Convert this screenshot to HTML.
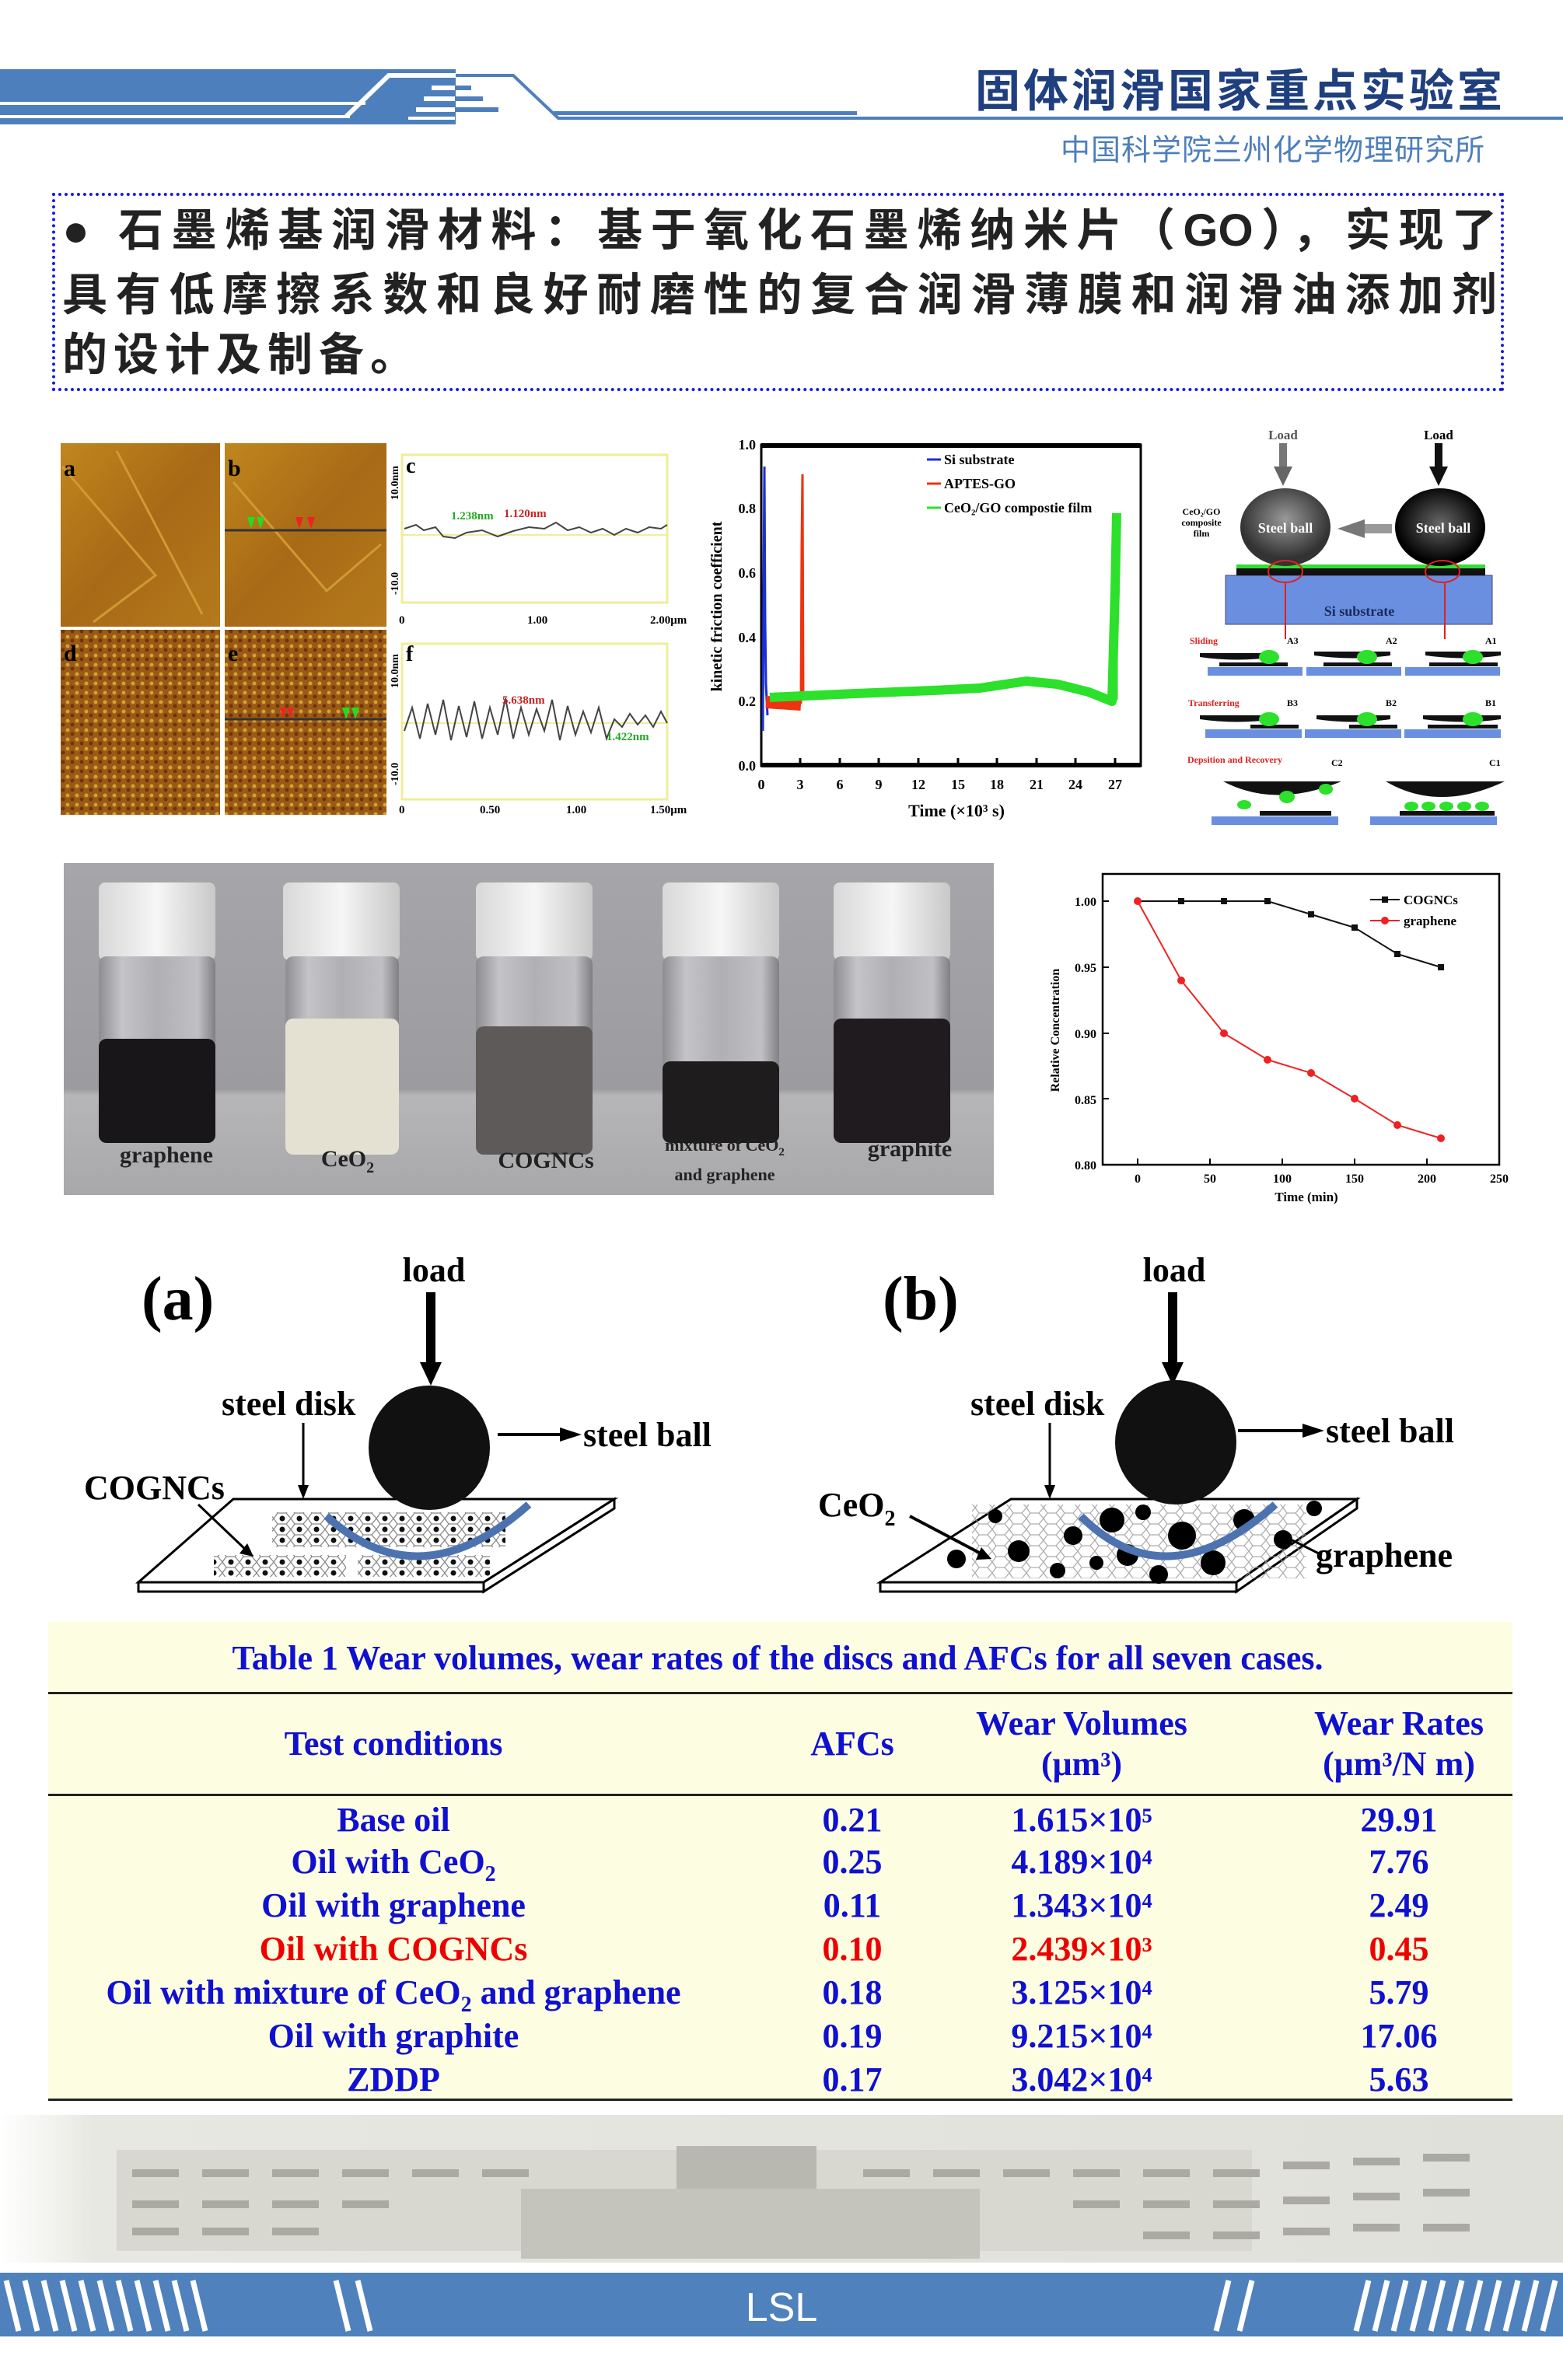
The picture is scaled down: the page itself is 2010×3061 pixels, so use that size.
<!DOCTYPE html>
<html><head><meta charset="utf-8">
<style>
*{margin:0;padding:0;box-sizing:border-box}
body{width:2010px;height:3061px;background:#fff;position:relative;overflow:hidden;font-family:"Liberation Serif","Noto Serif CJK SC",serif}
.abs{position:absolute}
.cjk{font-family:"Liberation Sans","Noto Sans CJK SC",sans-serif}
.ln{position:absolute;left:80px;width:1845px;font-size:58px;font-weight:bold;color:#222;text-align:justify;text-align-last:justify;line-height:60px;white-space:nowrap}
.t{position:absolute;font-weight:bold;font-size:44px;color:#1010d0;text-align:center;transform:translateX(-50%);white-space:nowrap;line-height:50px}
</style></head><body>

<!-- header -->
<svg class="abs" style="left:0;top:0" width="2010" height="220">
<rect x="0" y="89" width="586" height="71" fill="#4e7fbd"/>
<rect x="0" y="131" width="470" height="4" fill="#fff"/>
<rect x="0" y="148" width="450" height="4" fill="#fff"/>
<polyline points="445,150 500,97 586,97" fill="none" stroke="#fff" stroke-width="6"/>
<rect x="555" y="110" width="30" height="6" fill="#fff"/>
<rect x="545" y="124" width="40" height="6" fill="#fff"/>
<rect x="535" y="138" width="50" height="6" fill="#fff"/>
<rect x="525" y="150" width="60" height="4" fill="#fff"/>
<rect x="586" y="110" width="20" height="6" fill="#4e7fbd"/>
<rect x="586" y="124" width="35" height="6" fill="#4e7fbd"/>
<rect x="586" y="138" width="55" height="6" fill="#4e7fbd"/>
<polyline points="586,97 660,97 718,152 2010,152" fill="none" stroke="#4e7fbd" stroke-width="4"/>
<rect x="712" y="143" width="390" height="5" fill="#4e7fbd"/>
</svg>
<div class="abs cjk" style="left:1254px;top:70px;font-size:58px;font-weight:bold;color:#1f3f7f;letter-spacing:4px">固体润滑国家重点实验室</div>
<div class="abs cjk" style="left:1364px;top:162px;font-size:38px;color:#4e7fbd;letter-spacing:1px">中国科学院兰州化学物理研究所</div>

<!-- text box -->
<div class="abs" style="left:67px;top:248px;width:1867px;height:255px;border:4px dotted #1a1ae6"></div>
<div class="ln cjk" style="top:267px">● 石墨烯基润滑材料：基于氧化石墨烯纳米片（GO），实现了</div>
<div class="ln cjk" style="top:350px">具有低摩擦系数和良好耐磨性的复合润滑薄膜和润滑油添加剂</div>
<div class="abs cjk" style="left:80px;top:427px;font-size:58px;font-weight:bold;color:#222;line-height:60px;letter-spacing:8px">的设计及制备。</div>

<!-- AFM panels -->
<svg class="abs" style="left:0;top:540px" width="1000" height="540">
<defs>
<pattern id="n2" width="12" height="12" patternUnits="userSpaceOnUse"><rect width="12" height="12" fill="#9a5a16"/><circle cx="3" cy="3" r="2.5" fill="#d2a232"/><circle cx="9" cy="8" r="2.5" fill="#6e340c"/></pattern>
<linearGradient id="ag" x1="0" y1="0" x2="1" y2="1"><stop offset="0" stop-color="#c0861e"/><stop offset="0.5" stop-color="#a86a16"/><stop offset="1" stop-color="#b57a1c"/></linearGradient>
</defs>
<rect x="78" y="30" width="205" height="236" fill="url(#ag)"/>
<rect x="289" y="30" width="208" height="236" fill="url(#ag)"/>
<path d="M80 60 L200 200 L120 260 M150 40 L260 250 M300 80 L420 220 L490 160" stroke="#cf9a34" stroke-width="3" fill="none"/>
<rect x="78" y="270" width="205" height="238" fill="url(#n2)"/>
<rect x="289" y="270" width="208" height="238" fill="url(#n2)"/>
<line x1="289" y1="142" x2="497" y2="142" stroke="#333" stroke-width="3"/>
<line x1="289" y1="385" x2="497" y2="385" stroke="#333" stroke-width="3"/>
<text x="82" y="72" font-size="30" font-weight="bold">a</text>
<text x="293" y="72" font-size="30" font-weight="bold">b</text>
<text x="82" y="310" font-size="30" font-weight="bold">d</text>
<text x="293" y="310" font-size="30" font-weight="bold">e</text>
<polygon points="318,125 328,125 323,140" fill="#2d2"/><polygon points="330,125 340,125 335,140" fill="#2d2"/>
<polygon points="380,125 390,125 385,140" fill="#e22"/><polygon points="395,125 405,125 400,140" fill="#e22"/>
<polygon points="360,370 368,370 364,385" fill="#e22"/><polygon points="370,370 378,370 374,385" fill="#e22"/>
<polygon points="440,370 450,370 445,385" fill="#2d2"/><polygon points="452,370 462,370 457,385" fill="#2d2"/>
<!-- c -->
<rect x="517" y="45" width="341" height="190" fill="#fff" stroke="#ee9" stroke-width="3"/>
<line x1="517" y1="148" x2="858" y2="148" stroke="#ee9" stroke-width="2"/>
<polyline points="520,140 535,135 545,142 560,138 570,150 585,152 600,145 620,142 640,150 660,143 680,138 700,140 715,132 730,142 745,138 760,145 775,140 790,148 805,140 820,145 835,138 850,140 858,135" fill="none" stroke="#444" stroke-width="2"/>
<text x="522" y="68" font-size="28" font-weight="bold">c</text>
<text x="580" y="128" font-size="15" fill="#2a2" font-weight="bold">1.238nm</text>
<text x="648" y="125" font-size="15" fill="#c22" font-weight="bold">1.120nm</text>
<text x="512" y="103" font-size="14" font-weight="bold" transform="rotate(-90 512 103)">10.0nm</text>
<text x="512" y="225" font-size="14" font-weight="bold" transform="rotate(-90 512 225)">-10.0</text>
<text x="513" y="262" font-size="15" font-weight="bold">0</text>
<text x="678" y="262" font-size="15" font-weight="bold">1.00</text>
<text x="836" y="262" font-size="15" font-weight="bold">2.00μm</text>
<!-- f -->
<rect x="517" y="288" width="341" height="200" fill="#fff" stroke="#ee9" stroke-width="3"/>
<line x1="517" y1="390" x2="858" y2="390" stroke="#ee9" stroke-width="2"/>
<polyline points="520,400 530,370 540,410 550,365 560,405 570,360 580,412 590,368 600,408 610,362 620,410 630,370 640,405 650,358 660,410 670,370 680,405 690,372 700,400 710,360 720,412 730,368 740,405 750,375 760,402 770,370 780,410 790,385 800,395 810,378 820,392 830,380 840,395 850,375 858,390" fill="none" stroke="#444" stroke-width="2"/>
<text x="522" y="310" font-size="28" font-weight="bold">f</text>
<text x="646" y="365" font-size="15" fill="#c22" font-weight="bold">5.638nm</text>
<text x="780" y="412" font-size="15" fill="#2a2" font-weight="bold">1.422nm</text>
<text x="512" y="345" font-size="14" font-weight="bold" transform="rotate(-90 512 345)">10.0nm</text>
<text x="512" y="470" font-size="14" font-weight="bold" transform="rotate(-90 512 470)">-10.0</text>
<text x="513" y="506" font-size="15" font-weight="bold">0</text>
<text x="617" y="506" font-size="15" font-weight="bold">0.50</text>
<text x="728" y="506" font-size="15" font-weight="bold">1.00</text>
<text x="836" y="506" font-size="15" font-weight="bold">1.50μm</text>
</svg>

<!-- friction chart -->
<svg class="abs" style="left:900px;top:540px" width="600" height="540">
<g transform="translate(-900,-540)">
<rect x="979" y="572" width="488" height="413" fill="none" stroke="#000" stroke-width="3"/>
<line x1="979" y1="573" x2="1467" y2="573" stroke="#000" stroke-width="6"/>
<line x1="979" y1="984" x2="1467" y2="984" stroke="#000" stroke-width="6"/>
<g font-size="18" font-weight="bold" text-anchor="end">
<text x="972" y="578">1.0</text><text x="972" y="660">0.8</text><text x="972" y="743">0.6</text><text x="972" y="826">0.4</text><text x="972" y="908">0.2</text><text x="972" y="991">0.0</text></g>
<g font-size="18" font-weight="bold" text-anchor="middle">
<text x="979" y="1015">0</text><text x="1029" y="1015">3</text><text x="1080" y="1015">6</text><text x="1130" y="1015">9</text><text x="1181" y="1015">12</text><text x="1232" y="1015">15</text><text x="1282" y="1015">18</text><text x="1333" y="1015">21</text><text x="1383" y="1015">24</text><text x="1434" y="1015">27</text></g>
<g stroke="#000" stroke-width="3"><line x1="1029" y1="984" x2="1029" y2="975"/><line x1="1080" y1="984" x2="1080" y2="975"/><line x1="1130" y1="984" x2="1130" y2="975"/><line x1="1181" y1="984" x2="1181" y2="975"/><line x1="1232" y1="984" x2="1232" y2="975"/><line x1="1282" y1="984" x2="1282" y2="975"/><line x1="1333" y1="984" x2="1333" y2="975"/><line x1="1383" y1="984" x2="1383" y2="975"/><line x1="1434" y1="984" x2="1434" y2="975"/></g>
<text x="1230" y="1050" font-size="22" font-weight="bold" text-anchor="middle">Time (×10³ s)</text>
<text x="928" y="780" font-size="20" font-weight="bold" text-anchor="middle" transform="rotate(-90 928 780)">kinetic friction coefficient</text>
<polyline points="981,940 982,760 983,600 984,800 985,880 987,920" fill="none" stroke="#1b2fd8" stroke-width="3"/>
<path d="M985 903 L1030 906" stroke="#e31" stroke-width="16"/>
<polyline points="1030,905 1031,700 1032,610 1033,900" fill="none" stroke="#e31" stroke-width="3"/>
<polyline points="990,897 1100,892 1200,888 1260,885 1320,876 1360,880 1400,890 1430,902 1434,760 1436,660" fill="none" stroke="#2ce02c" stroke-width="12" stroke-linejoin="round"/>
<line x1="1436" y1="900" x2="1436" y2="660" stroke="#2ce02c" stroke-width="3"/>
<g font-size="18" font-weight="bold">
<line x1="1192" y1="591" x2="1210" y2="591" stroke="#1b2fd8" stroke-width="3"/><text x="1214" y="597">Si substrate</text>
<line x1="1192" y1="622" x2="1210" y2="622" stroke="#e31" stroke-width="3"/><text x="1214" y="628">APTES-GO</text>
<line x1="1192" y1="653" x2="1210" y2="653" stroke="#2ce02c" stroke-width="3"/><text x="1214" y="659">CeO₂/GO compostie film</text></g>
</g></svg>

<!-- right schematic -->
<svg class="abs" style="left:1490px;top:540px" width="460" height="540">
<defs><radialGradient id="gb" cx="0.5" cy="0.4"><stop offset="0" stop-color="#999"/><stop offset="1" stop-color="#333"/></radialGradient>
<radialGradient id="bb" cx="0.5" cy="0.45"><stop offset="0" stop-color="#666"/><stop offset="1" stop-color="#000"/></radialGradient></defs>
<text x="160" y="25" font-size="17" font-weight="bold" text-anchor="middle" fill="#555">Load</text>
<text x="360" y="25" font-size="17" font-weight="bold" text-anchor="middle">Load</text>
<rect x="155" y="30" width="10" height="30" fill="#777"/><polygon points="148,60 172,60 160,85" fill="#666"/>
<rect x="355" y="30" width="10" height="30" fill="#111"/><polygon points="348,60 372,60 360,85" fill="#111"/>
<rect x="86" y="200" width="343" height="63" fill="#6a8fe0" stroke="#446" stroke-width="1"/>
<rect x="100" y="190" width="320" height="10" fill="#111"/>
<rect x="100" y="186" width="320" height="5" fill="#3d3"/>
<ellipse cx="163" cy="138" rx="58" ry="50" fill="url(#gb)"/>
<ellipse cx="362" cy="138" rx="58" ry="50" fill="url(#bb)"/>
<polygon points="230,140 265,128 265,152" fill="#777"/><rect x="265" y="134" width="35" height="12" fill="#999"/>
<text x="163" y="145" font-size="18" font-weight="bold" fill="#fff" text-anchor="middle">Steel ball</text>
<text x="366" y="145" font-size="18" font-weight="bold" fill="#fff" text-anchor="middle">Steel ball</text>
<text x="55" y="122" font-size="12" font-weight="bold" text-anchor="middle">CeO₂/GO</text>
<text x="55" y="136" font-size="12" font-weight="bold" text-anchor="middle">composite</text>
<text x="55" y="150" font-size="12" font-weight="bold" text-anchor="middle">film</text>
<ellipse cx="163" cy="195" rx="22" ry="14" fill="none" stroke="#d22" stroke-width="2"/>
<ellipse cx="365" cy="195" rx="22" ry="14" fill="none" stroke="#d22" stroke-width="2"/>
<line x1="163" y1="210" x2="163" y2="282" stroke="#d22" stroke-width="2"/>
<line x1="368" y1="210" x2="368" y2="282" stroke="#d22" stroke-width="2"/>
<text x="258" y="252" font-size="18" font-weight="bold" fill="#1a2a5a" text-anchor="middle">Si substrate</text>
<g font-size="12" font-weight="bold">
<text x="40" y="288" fill="#d22">Sliding</text><text x="165" y="288">A3</text><text x="292" y="288">A2</text><text x="420" y="288">A1</text>
<text x="38" y="368" fill="#d22">Transferring</text><text x="165" y="368">B3</text><text x="292" y="368">B2</text><text x="420" y="368">B1</text>
<text x="37" y="441" fill="#d22">Depsition and Recovery</text><text x="222" y="445">C2</text><text x="425" y="445">C1</text></g>
<g fill="#6a8fe0"><rect x="63" y="318" width="122" height="11"/><rect x="190" y="318" width="122" height="11"/><rect x="317" y="318" width="122" height="11"/>
<rect x="60" y="398" width="124" height="11"/><rect x="188" y="398" width="124" height="11"/><rect x="316" y="398" width="124" height="11"/>
<rect x="68" y="510" width="163" height="11"/><rect x="272" y="510" width="163" height="11"/></g>
<g fill="#111"><rect x="78" y="312" width="88" height="5"/><rect x="212" y="312" width="88" height="5"/><rect x="348" y="312" width="88" height="5"/>
<rect x="118" y="392" width="62" height="5"/><rect x="245" y="392" width="62" height="5"/><rect x="346" y="392" width="90" height="5"/>
<rect x="130" y="503" width="92" height="6"/><rect x="310" y="503" width="122" height="6"/>
<path d="M53 305 Q100 312 150 305 L150 300 L53 300Z"/><path d="M200 303 Q250 310 298 303 L298 298 L200 298Z"/><path d="M343 303 Q395 310 440 303 L440 298 L343 298Z"/>
<path d="M53 385 Q100 392 150 385 L150 380 L53 380Z"/><path d="M203 385 Q250 392 298 385 L298 380 L203 380Z"/><path d="M340 385 Q395 392 440 385 L440 380 L340 380Z"/>
<path d="M83 465 Q150 500 235 465Z"/><path d="M292 465 Q360 505 445 465Z"/></g>
<g fill="#2ce02c"><ellipse cx="142" cy="305" rx="13" ry="9"/><ellipse cx="268" cy="305" rx="13" ry="9"/><ellipse cx="404" cy="305" rx="13" ry="9"/>
<ellipse cx="142" cy="385" rx="13" ry="9"/><ellipse cx="268" cy="385" rx="13" ry="9"/><ellipse cx="404" cy="385" rx="13" ry="9"/>
<ellipse cx="110" cy="495" rx="9" ry="6"/><ellipse cx="165" cy="485" rx="10" ry="8"/><ellipse cx="215" cy="475" rx="9" ry="7"/>
<ellipse cx="325" cy="497" rx="9" ry="6"/><ellipse cx="347" cy="497" rx="9" ry="6"/><ellipse cx="370" cy="497" rx="9" ry="6"/><ellipse cx="393" cy="497" rx="9" ry="6"/><ellipse cx="416" cy="497" rx="9" ry="6"/></g>
</svg>

<!-- vial photo -->
<svg class="abs" style="left:82px;top:1110px" width="1196" height="427">
<defs><linearGradient id="bg" x1="0" y1="0" x2="0" y2="1"><stop offset="0" stop-color="#a6a6aa"/><stop offset="0.68" stop-color="#9c9ca0"/><stop offset="0.7" stop-color="#b6b6b8"/><stop offset="1" stop-color="#a8a8aa"/></linearGradient>
<linearGradient id="cap" x1="0" y1="0" x2="1" y2="0"><stop offset="0" stop-color="#d8d8d8"/><stop offset="0.5" stop-color="#f6f6f6"/><stop offset="1" stop-color="#c8c8c8"/></linearGradient>
<linearGradient id="gl" x1="0" y1="0" x2="1" y2="0"><stop offset="0" stop-color="#8e8e92"/><stop offset="0.2" stop-color="#c4c4c8"/><stop offset="0.5" stop-color="#b0b0b4"/><stop offset="0.85" stop-color="#c0c0c4"/><stop offset="1" stop-color="#808084"/></linearGradient></defs>
<rect width="1196" height="427" fill="url(#bg)"/>
<g>
<rect x="45" y="25" width="150" height="100" rx="8" fill="url(#cap)"/><rect x="45" y="120" width="150" height="240" rx="10" fill="url(#gl)"/><rect x="45" y="226" width="150" height="134" rx="10" fill="#19161a"/>
<rect x="282" y="25" width="150" height="100" rx="8" fill="url(#cap)"/><rect x="285" y="120" width="146" height="255" rx="10" fill="url(#gl)"/><rect x="285" y="200" width="146" height="175" rx="10" fill="#e4e1d2"/>
<rect x="530" y="25" width="150" height="100" rx="8" fill="url(#cap)"/><rect x="530" y="120" width="150" height="255" rx="10" fill="url(#gl)"/><rect x="530" y="210" width="150" height="165" rx="10" fill="#5e5a5a"/>
<rect x="770" y="25" width="150" height="100" rx="8" fill="url(#cap)"/><rect x="770" y="120" width="150" height="240" rx="10" fill="url(#gl)"/><rect x="770" y="255" width="150" height="105" rx="10" fill="#1f1c1e"/>
<rect x="990" y="25" width="150" height="100" rx="8" fill="url(#cap)"/><rect x="990" y="120" width="150" height="240" rx="10" fill="url(#gl)"/><rect x="990" y="200" width="150" height="160" rx="10" fill="#1f1b1e"/>
</g>
<g font-size="30" font-weight="bold" fill="#222" text-anchor="middle">
<text x="132" y="385">graphene</text><text x="365" y="390">CeO<tspan font-size="20" dy="8">2</tspan></text><text x="620" y="392">COGNCs</text>
<text x="850" y="370" font-size="22">mixture of CeO<tspan font-size="15" dy="6">2</tspan></text><text x="850" y="408" font-size="22">and graphene</text><text x="1088" y="377">graphite</text></g>
</svg>

<!-- concentration chart -->
<svg class="abs" style="left:1330px;top:1100px" width="680" height="460">
<g transform="translate(-1330,-1100)">
<rect x="1418" y="1124" width="510" height="374" fill="none" stroke="#000" stroke-width="2.5"/>
<g font-size="16" font-weight="bold" text-anchor="end"><text x="1410" y="1165">1.00</text><text x="1410" y="1250">0.95</text><text x="1410" y="1335">0.90</text><text x="1410" y="1420">0.85</text><text x="1410" y="1504">0.80</text></g>
<g stroke="#000" stroke-width="2"><line x1="1418" y1="1159" x2="1426" y2="1159"/><line x1="1418" y1="1244" x2="1426" y2="1244"/><line x1="1418" y1="1329" x2="1426" y2="1329"/><line x1="1418" y1="1413" x2="1426" y2="1413"/>
<line x1="1463" y1="1498" x2="1463" y2="1490"/><line x1="1556" y1="1498" x2="1556" y2="1490"/><line x1="1649" y1="1498" x2="1649" y2="1490"/><line x1="1742" y1="1498" x2="1742" y2="1490"/><line x1="1835" y1="1498" x2="1835" y2="1490"/></g>
<g font-size="16" font-weight="bold" text-anchor="middle"><text x="1463" y="1521">0</text><text x="1556" y="1521">50</text><text x="1649" y="1521">100</text><text x="1742" y="1521">150</text><text x="1835" y="1521">200</text><text x="1928" y="1521">250</text></g>
<text x="1680" y="1545" font-size="17" font-weight="bold" text-anchor="middle">Time (min)</text>
<text x="1362" y="1325" font-size="16" font-weight="bold" text-anchor="middle" transform="rotate(-90 1362 1325)">Relative Concentration</text>
<polyline points="1463,1159 1519,1159 1574,1159 1630,1159 1686,1176 1742,1193 1797,1227 1853,1244" fill="none" stroke="#111" stroke-width="2"/>
<g fill="#111"><rect x="1515" y="1155" width="8" height="8"/><rect x="1570" y="1155" width="8" height="8"/><rect x="1626" y="1155" width="8" height="8"/><rect x="1682" y="1172" width="8" height="8"/><rect x="1738" y="1189" width="8" height="8"/><rect x="1793" y="1223" width="8" height="8"/><rect x="1849" y="1240" width="8" height="8"/></g>
<polyline points="1463,1159 1519,1261 1574,1329 1630,1363 1686,1380 1742,1413 1797,1447 1853,1464" fill="none" stroke="#e22" stroke-width="2"/>
<g fill="#e22"><circle cx="1463" cy="1159" r="5"/><circle cx="1519" cy="1261" r="5"/><circle cx="1574" cy="1329" r="5"/><circle cx="1630" cy="1363" r="5"/><circle cx="1686" cy="1380" r="5"/><circle cx="1742" cy="1413" r="5"/><circle cx="1797" cy="1447" r="5"/><circle cx="1853" cy="1464" r="5"/></g>
<line x1="1762" y1="1157" x2="1800" y2="1157" stroke="#111" stroke-width="2"/><rect x="1777" y="1153" width="8" height="8" fill="#111"/>
<text x="1805" y="1163" font-size="17" font-weight="bold">COGNCs</text>
<line x1="1762" y1="1184" x2="1800" y2="1184" stroke="#e22" stroke-width="2"/><circle cx="1781" cy="1184" r="5" fill="#e22"/>
<text x="1805" y="1190" font-size="17" font-weight="bold">graphene</text>
</g></svg>

<!-- schematics a/b -->
<svg class="abs" style="left:0;top:1590px" width="2010" height="470">
<defs><pattern id="hx" width="22" height="14" patternUnits="userSpaceOnUse"><path d="M0 7 L5 0 L16 0 L22 7 L16 14 L5 14Z" fill="none" stroke="#888" stroke-width="1.3"/><circle cx="11" cy="7" r="3.5" fill="#111"/></pattern>
<pattern id="hx2" width="22" height="14" patternUnits="userSpaceOnUse"><path d="M0 7 L5 0 L16 0 L22 7 L16 14 L5 14Z" fill="none" stroke="#999" stroke-width="1.3"/></pattern></defs>
<g transform="translate(0,-1590)">
<text x="182" y="1697" font-size="80" font-weight="bold">(a)</text>
<text x="1135" y="1697" font-size="80" font-weight="bold">(b)</text>
<text x="558" y="1648" font-size="44" font-weight="bold" text-anchor="middle">load</text>
<text x="1510" y="1648" font-size="44" font-weight="bold" text-anchor="middle">load</text>
<rect x="548" y="1662" width="12" height="90" fill="#000"/><polygon points="540,1752 568,1752 554,1782" fill="#000"/>
<rect x="1502" y="1662" width="12" height="90" fill="#000"/><polygon points="1494,1752 1522,1752 1508,1782" fill="#000"/>
<polygon points="178,2035 300,1928 790,1928 622,2035" fill="#fff" stroke="#000" stroke-width="3"/>
<polygon points="178,2035 622,2035 622,2047 178,2047" fill="#fff" stroke="#000" stroke-width="3"/>
<polygon points="622,2035 790,1928 790,1940 622,2047" fill="#fff" stroke="#000" stroke-width="3"/>
<rect x="350" y="1945" width="300" height="45" fill="url(#hx)"/>
<rect x="275" y="2000" width="170" height="28" fill="url(#hx)"/>
<rect x="460" y="2000" width="170" height="28" fill="url(#hx)"/>
<path d="M420 1950 Q540 2060 680 1935" fill="none" stroke="#4d72b0" stroke-width="10"/>
<ellipse cx="552" cy="1862" rx="78" ry="80" fill="#111"/>
<text x="285" y="1820" font-size="44" font-weight="bold">steel disk</text>
<line x1="390" y1="1830" x2="390" y2="1920" stroke="#000" stroke-width="3"/><polygon points="383,1910 397,1910 390,1928"/>
<line x1="640" y1="1845" x2="725" y2="1845" stroke="#000" stroke-width="4"/><polygon points="720,1836 748,1845 720,1854"/>
<text x="750" y="1860" font-size="44" font-weight="bold">steel ball</text>
<text x="108" y="1928" font-size="44" font-weight="bold">COGNCs</text>
<line x1="255" y1="1935" x2="318" y2="1995" stroke="#000" stroke-width="3"/><polygon points="308,1998 326,2002 318,1985"/>
<polygon points="1132,2035 1300,1928 1745,1928 1590,2035" fill="#fff" stroke="#000" stroke-width="3"/>
<polygon points="1132,2035 1590,2035 1590,2047 1132,2047" fill="#fff" stroke="#000" stroke-width="3"/>
<polygon points="1590,2035 1745,1928 1745,1940 1590,2047" fill="#fff" stroke="#000" stroke-width="3"/>
<rect x="1250" y="1935" width="430" height="95" fill="url(#hx2)" opacity="0.8"/>
<g fill="#000"><circle cx="1230" cy="2005" r="12"/><circle cx="1280" cy="1950" r="9"/><circle cx="1310" cy="1995" r="14"/><circle cx="1360" cy="2020" r="10"/><circle cx="1380" cy="1975" r="12"/><circle cx="1430" cy="1955" r="16"/><circle cx="1450" cy="2000" r="14"/><circle cx="1490" cy="2025" r="12"/><circle cx="1520" cy="1975" r="18"/><circle cx="1560" cy="2010" r="16"/><circle cx="1600" cy="1955" r="14"/><circle cx="1650" cy="1980" r="12"/><circle cx="1690" cy="1940" r="10"/><circle cx="1470" cy="1945" r="10"/><circle cx="1410" cy="2010" r="9"/></g>
<path d="M1390 1950 Q1500 2060 1640 1935" fill="none" stroke="#4d72b0" stroke-width="10"/>
<ellipse cx="1512" cy="1855" rx="78" ry="80" fill="#111"/>
<text x="1248" y="1820" font-size="44" font-weight="bold">steel disk</text>
<line x1="1350" y1="1830" x2="1350" y2="1920" stroke="#000" stroke-width="3"/><polygon points="1343,1910 1357,1910 1350,1928"/>
<line x1="1592" y1="1840" x2="1680" y2="1840" stroke="#000" stroke-width="4"/><polygon points="1675,1831 1703,1840 1675,1849"/>
<text x="1705" y="1855" font-size="44" font-weight="bold">steel ball</text>
<text x="1052" y="1950" font-size="44" font-weight="bold">CeO<tspan font-size="28" dy="12">2</tspan></text>
<line x1="1170" y1="1950" x2="1265" y2="2000" stroke="#000" stroke-width="4"/><polygon points="1255,2006 1275,2005 1262,1990"/>
<text x="1692" y="2015" font-size="44" font-weight="bold">graphene</text>
<line x1="1700" y1="2000" x2="1650" y2="1975" stroke="#000" stroke-width="3"/>
</g></svg>

<!-- table -->
<div class="abs" style="left:62px;top:2086px;width:1883px;height:616px;background:#fdfde1"></div>
<div class="abs" style="left:62px;top:2176px;width:1883px;height:3px;background:#222"></div>
<div class="abs" style="left:62px;top:2307px;width:1883px;height:3px;background:#222"></div>
<div class="abs" style="left:62px;top:2699px;width:1883px;height:3px;background:#222"></div>
<div class="t" style="left:1000px;top:2108px">Table 1 Wear volumes, wear rates of the discs and AFCs for all seven cases.</div>
<div class="t" style="left:506px;top:2218px">Test conditions</div>
<div class="t" style="left:1096px;top:2218px">AFCs</div>
<div class="t" style="left:1391px;top:2192px">Wear Volumes</div>
<div class="t" style="left:1391px;top:2244px">(μm³)</div>
<div class="t" style="left:1799px;top:2192px">Wear Rates</div>
<div class="t" style="left:1799px;top:2244px">(μm³/N m)</div>

<div class="t" style="left:506px;top:2316px">Base oil</div><div class="t" style="left:1096px;top:2316px">0.21</div><div class="t" style="left:1391px;top:2316px">1.615×10⁵</div><div class="t" style="left:1799px;top:2316px">29.91</div>
<div class="t" style="left:506px;top:2370px">Oil with CeO<sub style="font-size:28px">2</sub></div><div class="t" style="left:1096px;top:2370px">0.25</div><div class="t" style="left:1391px;top:2370px">4.189×10⁴</div><div class="t" style="left:1799px;top:2370px">7.76</div>
<div class="t" style="left:506px;top:2426px">Oil with graphene</div><div class="t" style="left:1096px;top:2426px">0.11</div><div class="t" style="left:1391px;top:2426px">1.343×10⁴</div><div class="t" style="left:1799px;top:2426px">2.49</div>
<div class="t" style="left:506px;top:2482px;color:#e00">Oil with COGNCs</div><div class="t" style="left:1096px;top:2482px;color:#e00">0.10</div><div class="t" style="left:1391px;top:2482px;color:#e00">2.439×10³</div><div class="t" style="left:1799px;top:2482px;color:#e00">0.45</div>
<div class="t" style="left:506px;top:2538px">Oil with mixture of CeO<sub style="font-size:28px">2</sub> and graphene</div><div class="t" style="left:1096px;top:2538px">0.18</div><div class="t" style="left:1391px;top:2538px">3.125×10⁴</div><div class="t" style="left:1799px;top:2538px">5.79</div>
<div class="t" style="left:506px;top:2594px">Oil with graphite</div><div class="t" style="left:1096px;top:2594px">0.19</div><div class="t" style="left:1391px;top:2594px">9.215×10⁴</div><div class="t" style="left:1799px;top:2594px">17.06</div>
<div class="t" style="left:506px;top:2650px">ZDDP</div><div class="t" style="left:1096px;top:2650px">0.17</div><div class="t" style="left:1391px;top:2650px">3.042×10⁴</div><div class="t" style="left:1799px;top:2650px">5.63</div>

<!-- building -->
<svg class="abs" style="left:0;top:2720px" width="2010" height="200">
<defs><linearGradient id="fd" x1="0" y1="0" x2="1" y2="0"><stop offset="0" stop-color="#fff"/><stop offset="0.06" stop-color="#e8e8e2"/><stop offset="1" stop-color="#e0e0da"/></linearGradient></defs>
<rect x="0" y="0" width="2010" height="190" fill="url(#fd)"/>
<rect x="150" y="45" width="1460" height="130" fill="#d8d8d0"/>
<rect x="870" y="40" width="180" height="60" fill="#b8b8b0"/>
<rect x="670" y="95" width="590" height="90" fill="#c4c4bc"/>
<g fill="#aaa9a2">
<rect x="170" y="70" width="60" height="10"/><rect x="260" y="70" width="60" height="10"/><rect x="350" y="70" width="60" height="10"/><rect x="440" y="70" width="60" height="10"/><rect x="530" y="70" width="60" height="10"/><rect x="620" y="70" width="60" height="10"/>
<rect x="170" y="110" width="60" height="10"/><rect x="260" y="110" width="60" height="10"/><rect x="350" y="110" width="60" height="10"/><rect x="440" y="110" width="60" height="10"/>
<rect x="170" y="145" width="60" height="10"/><rect x="260" y="145" width="60" height="10"/><rect x="350" y="145" width="60" height="10"/>
<rect x="1110" y="70" width="60" height="10"/><rect x="1200" y="70" width="60" height="10"/><rect x="1290" y="70" width="60" height="10"/><rect x="1380" y="70" width="60" height="10"/><rect x="1470" y="70" width="60" height="10"/><rect x="1560" y="70" width="60" height="10"/><rect x="1650" y="60" width="60" height="10"/><rect x="1740" y="55" width="60" height="10"/><rect x="1830" y="50" width="60" height="10"/>
<rect x="1380" y="110" width="60" height="10"/><rect x="1470" y="110" width="60" height="10"/><rect x="1560" y="110" width="60" height="10"/><rect x="1650" y="105" width="60" height="10"/><rect x="1740" y="100" width="60" height="10"/><rect x="1830" y="95" width="60" height="10"/>
<rect x="1470" y="150" width="60" height="10"/><rect x="1560" y="150" width="60" height="10"/><rect x="1650" y="145" width="60" height="10"/><rect x="1740" y="140" width="60" height="10"/><rect x="1830" y="140" width="60" height="10"/></g>
</svg>

<!-- footer -->
<svg class="abs" style="left:0;top:2923px" width="2010" height="82">
<rect width="2010" height="82" fill="#4f81bd"/>
<g stroke="#fff" stroke-width="7">
<line x1="8" y1="10" x2="24" y2="75"/><line x1="32" y1="10" x2="48" y2="75"/><line x1="56" y1="10" x2="72" y2="75"/><line x1="80" y1="10" x2="96" y2="75"/><line x1="104" y1="10" x2="120" y2="75"/><line x1="128" y1="10" x2="144" y2="75"/><line x1="152" y1="10" x2="168" y2="75"/><line x1="176" y1="10" x2="192" y2="75"/><line x1="200" y1="10" x2="216" y2="75"/><line x1="224" y1="10" x2="240" y2="75"/><line x1="248" y1="10" x2="264" y2="75"/>
<line x1="432" y1="10" x2="448" y2="75"/><line x1="460" y1="10" x2="476" y2="75"/>
<line x1="1580" y1="10" x2="1564" y2="75"/><line x1="1610" y1="10" x2="1594" y2="75"/>
<line x1="1760" y1="10" x2="1744" y2="75"/><line x1="1784" y1="10" x2="1768" y2="75"/><line x1="1808" y1="10" x2="1792" y2="75"/><line x1="1832" y1="10" x2="1816" y2="75"/><line x1="1856" y1="10" x2="1840" y2="75"/><line x1="1880" y1="10" x2="1864" y2="75"/><line x1="1904" y1="10" x2="1888" y2="75"/><line x1="1928" y1="10" x2="1912" y2="75"/><line x1="1952" y1="10" x2="1936" y2="75"/><line x1="1976" y1="10" x2="1960" y2="75"/><line x1="2000" y1="10" x2="1984" y2="75"/></g>
<text x="1005" y="62" font-family="Liberation Sans, sans-serif" font-size="52" fill="#fff" text-anchor="middle">LSL</text>
</svg>
</body></html>
